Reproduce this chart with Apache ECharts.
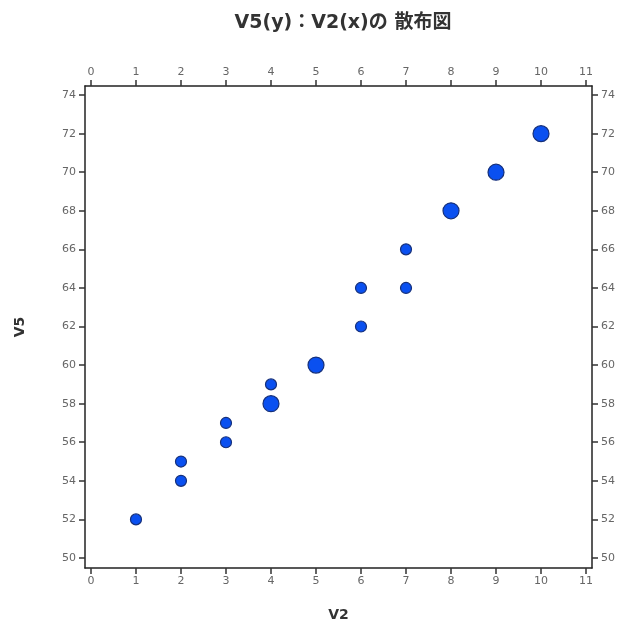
<!DOCTYPE html>
<html><head><meta charset="utf-8">
<script src="https://cdn.jsdelivr.net/npm/echarts@6/dist/echarts.min.js"></script>
<style>html,body{margin:0;padding:0;background:#fff}#c{width:618px;height:623px}</style>
</head><body><div id="c"></div>
<script>
const xValues = [1, 2, 2, 3, 3, 4, 4, 5, 6, 6, 7, 7, 8, 9, 10];
const yValues = [52, 54, 55, 56, 57, 58, 59, 60, 62, 64, 64, 66, 68, 70, 72];
const counts  = [1, 1, 1, 1, 1, 2, 1, 2, 1, 1, 1, 1, 2, 2, 2];
const xTicks = [0,1,2,3,4,5,6,7,8,9,10,11];
const yTicks = [50,52,54,56,58,60,62,64,66,68,70,72,74];

const data = xValues.map((x, i) => [x, yValues[i], counts[i]]);
const lineStyle = { color: '#222', width: 1.5 };
const tickStyle = { color: '#333', width: 1.5 };
const labelStyle = { color: '#666', fontSize: 11, fontFamily: 'DejaVu Sans' };
function xAxis(pos, showName) {
  return {
    type: 'value', position: pos, min: -0.133, max: 11.133,
    name: showName ? 'V2' : '', nameLocation: 'middle', nameGap: 40,
    nameTextStyle: { fontWeight: 'bold', fontSize: 14, color: '#333', fontFamily: 'DejaVu Sans' },
    axisLine: { show: true, onZero: false, lineStyle },
    axisTick: { show: true, length: 6, customValues: xTicks, lineStyle: tickStyle },
    axisLabel: Object.assign({ customValues: xTicks, margin: 8 }, labelStyle),
    splitLine: { show: false }
  };
}
function yAxis(pos, showName) {
  return {
    type: 'value', position: pos, min: 49.48, max: 74.47,
    name: showName ? 'V5' : '', nameLocation: 'middle', nameGap: 58,
    nameTextStyle: { fontWeight: 'bold', fontSize: 14, color: '#333', fontFamily: 'DejaVu Sans' },
    axisLine: { show: true, onZero: false, lineStyle },
    axisTick: { show: true, length: 6, customValues: yTicks, lineStyle: tickStyle },
    axisLabel: Object.assign({ customValues: yTicks, margin: 9 }, labelStyle),
    splitLine: { show: false }
  };
}
const chart = echarts.init(document.getElementById('c'), null, { renderer: 'canvas' });
chart.setOption({
  animation: false,
  backgroundColor: '#fff',
  title: {
    text: 'V5(y)：V2(x)の 散布図', left: 338, top: 9, textAlign: 'center',
    textStyle: { fontSize: 19, fontWeight: 'bold', color: '#333', fontFamily: 'DejaVu Sans, Noto Sans CJK JP' }
  },
  grid: { left: 85, right: 26, top: 86, bottom: 55, outerBoundsMode: 'none', containLabel: false },
  xAxis: [xAxis('bottom', true), xAxis('top', false)],
  yAxis: [yAxis('left', true), yAxis('right', false)],
  series: [{
    type: 'scatter', xAxisIndex: 0, yAxisIndex: 0,
    data: data,
    symbolSize: d => d[2] > 1 ? 16 : 11,
    itemStyle: { color: '#0a50f0', borderColor: '#16307a', borderWidth: 1.2, opacity: 1 }
  }]
});
</script></body></html>
